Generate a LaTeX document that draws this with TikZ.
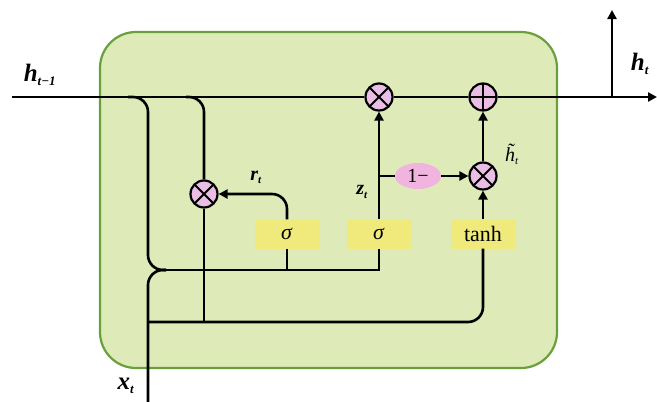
\documentclass[tikz,border=0pt]{standalone}
\usepackage{fontspec}
\setmainfont{Liberation Serif}
\usetikzlibrary{arrows.meta,shapes.geometric}
\definecolor{cellfill}{RGB}{222,235,185}
\definecolor{celledge}{RGB}{105,160,60}
\definecolor{gatefill}{RGB}{240,234,125}
\definecolor{opfill}{RGB}{234,190,228}
\definecolor{elfill}{RGB}{240,180,222}
\tikzset{
  wire/.style={line width=2.6pt,black},
  arr/.style={wire,-{Triangle[length=9pt,width=9pt]}},
  gate/.style={fill=gatefill,minimum width=65pt,minimum height=29pt,inner sep=0pt,font=\fontsize{22}{24}\selectfont},
  opnode/.style={circle,draw=black,line width=2.2pt,fill=opfill,minimum size=27pt,inner sep=0pt},
  mult/.style={opnode,path picture={\draw[line width=2pt]
      (path picture bounding box.north west)--(path picture bounding box.south east)
      (path picture bounding box.north east)--(path picture bounding box.south west);}},
  plus/.style={opnode,path picture={\draw[line width=2pt]
      (path picture bounding box.north)--(path picture bounding box.south)
      (path picture bounding box.east)--(path picture bounding box.west);}},
  lbl/.style={font=\fontsize{25}{27}\selectfont\bfseries\itshape,inner sep=0pt},
  slbl/.style={font=\fontsize{20}{22}\selectfont\bfseries\itshape,inner sep=0pt}
}
\begin{document}
\begin{tikzpicture}[x=1pt,y=-1pt]
\useasboundingbox (0,0) rectangle (657,402);
% cell
\draw[fill=cellfill,draw=celledge,line width=2.2pt,rounded corners=36pt] (100,32) rectangle (557,368);
% nodes
\node[mult] (m1) at (379,97) {};
\node[plus] (p1) at (483,97) {};
\node[mult] (m2) at (483,176) {};
\node[mult] (mr) at (204,194) {};
\node[ellipse,fill=elfill,minimum width=46pt,minimum height=26pt,inner sep=0pt,font=\fontsize{20}{22}\selectfont] (e1) at (418,176) {1−};
\node[gate] (s1) at (287,234) {\textit{σ}};
\node[gate] (s2) at (379,234) {\textit{σ}};
\node[gate] (th) at (483,234) {tanh};
\coordinate (hin) at (12,97);
\coordinate (hout) at (657,97);
\coordinate (hsplit) at (612,97);
\coordinate (htop) at (612,10);
\coordinate (xin) at (148,402);
\coordinate (merge) at (166,270);
\coordinate (zsplit) at (379,176);
% labels
\node[lbl] (lhp) at (40,75) {h\textsubscript{\fontsize{13}{13}\selectfont t−1}};
\node[lbl] (lht) at (640,64) {h\textsubscript{\fontsize{13}{13}\selectfont t}};
\node[lbl] (lxt) at (126,386) {x\textsubscript{\fontsize{13}{13}\selectfont t}};
\node[slbl] (lrt) at (256,177) {r\textsubscript{\fontsize{11}{11}\selectfont t}};
\node[slbl] (lzt) at (362,192) {z\textsubscript{\fontsize{11}{11}\selectfont t}};
\node[slbl,font=\fontsize{20}{22}\selectfont\itshape] (lht2) at (512,154) {\~{h}\textsubscript{\fontsize{11}{11}\selectfont t}};
% main line
\draw[wire] (hin) -- (m1);
\draw[wire] (m1) -- (p1);
\draw[arr] (p1) -- (hout);
\draw[arr] (hsplit) -- (htop);
% h_{t-1} branches
\draw[wire,rounded corners=15pt] (128,97) -- (148,97) -- (148,270) -- (merge);
\draw[wire,rounded corners=15pt] (186,97) -- (204,97) -- (mr.north);
\draw[wire] (mr.south) -- (204,322);
% x_t
\draw[wire,rounded corners=15pt] (xin) -- (148,270) -- (merge);
\draw[wire,rounded corners=15pt] (148,322) -- (483,322) -- (th.south);
% gate inputs
\draw[wire] (merge) -- (379,270) -- (s2.south);
\draw[wire] (s1.south) -- (287,270);
% gate outputs
\draw[arr,rounded corners=15pt] (s1.north) -- (287,194) -- (mr.east);
\draw[arr] (s2.north) -- (m1.south);
\draw[wire] (zsplit) -- (e1.west);
\draw[arr] (e1.east) -- (m2.west);
\draw[arr] (th.north) -- (m2.south);
\draw[arr] (m2.north) -- (p1.south);
\end{tikzpicture}
\end{document}
